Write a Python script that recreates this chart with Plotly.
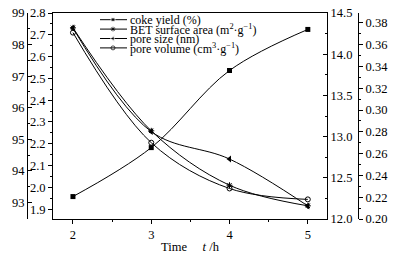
import plotly.graph_objects as go

time_h = [2, 3, 4, 5]
coke_yield = [93.19, 94.74, 97.18, 98.48]
bet_area = [14.32, 13.07, 12.41, 12.16]
pore_size = [2.731, 2.256, 2.130, 1.915]
pore_volume = [0.371, 0.270, 0.228, 0.218]

legend_names = ["coke yield (%)",
                "BET surface area (m<sup>2</sup>·g<sup>−1</sup>)",
                "pore size (nm)",
                "pore volume (cm<sup>3</sup>·g<sup>−1</sup>)"]

W, H = 395, 260
FONT = "Liberation Serif"
px = lambda v: v / W
py = lambda v: (H - v) / H

series = [
    (coke_yield, "y2", dict(symbol="square", size=5, color="black")),
    (bet_area, "y3", dict(symbol="asterisk-open", size=5, color="black", line=dict(color="black", width=1))),
    (pore_size, "y", dict(symbol="triangle-left", size=6, color="black")),
    (pore_volume, "y4", dict(symbol="circle-open", size=5, color="black", line=dict(color="black", width=1))),
]

fig = go.Figure()
for vals, yax, mk in series:
    fig.add_trace(go.Scatter(x=time_h, y=vals, yaxis=yax, mode="lines+markers",
                             line=dict(color="black", width=1, shape="spline", smoothing=1),
                             marker=mk, showlegend=False, hoverinfo="skip"))

# manual compact legend drawn on a pixel-space overlay axis
rows = [19.7, 29.1, 38.5, 47.9]
for (vals, yax, mk), name, ry in zip(series, legend_names, rows):
    m = dict(mk)
    m["size"] = [0, mk["size"] - 1, 0]
    fig.add_trace(go.Scatter(x=[100, 113, 127], y=[ry, ry, ry], xaxis="x2", yaxis="y5",
                             mode="lines+markers", line=dict(color="black", width=1),
                             marker=m, showlegend=False, hoverinfo="skip"))
    fig.add_annotation(x=128, y=ry + 0.5, xref="x2", yref="y5", text=name, showarrow=False,
                       xanchor="left", yanchor="middle", font=dict(family=FONT, size=12, color="black"))

axis_common = dict(showline=True, linecolor="black", linewidth=1, showgrid=False, zeroline=False,
                   tickcolor="black", tickwidth=1, ticklen=4,
                   tickfont=dict(family=FONT, size=12.5, color="black"), automargin=False)

fig.update_layout(
    width=W, height=H, margin=dict(l=0, r=0, t=0, b=0),
    paper_bgcolor="white", plot_bgcolor="rgba(0,0,0,0)",
    xaxis=dict(domain=[px(53), px(327)], range=[1.745, 5.245], tickvals=time_h, ticks="outside",
               mirror=True, anchor="y",
               minor=dict(dtick=0.5, tick0=2, ticks="outside", ticklen=2, tickcolor="black"),
               **axis_common),
    yaxis=dict(domain=[py(219), py(13)], range=[1.855, 2.8], dtick=0.1, tick0=1.9, tickformat=".1f",
               ticks="outside", anchor="x", side="left",
               minor=dict(dtick=0.05, tick0=1.9, ticks="outside", ticklen=2, tickcolor="black"),
               **axis_common),
    yaxis2=dict(overlaying="y", anchor="free", position=px(27), side="left",
                range=[92.48, 99], dtick=1, tick0=93, ticks="inside",
                minor=dict(dtick=0.5, tick0=93, ticks="inside", ticklen=2, tickcolor="black"),
                **axis_common),
    yaxis3=dict(overlaying="y", anchor="x", side="right", range=[12, 14.5], dtick=0.5, tick0=12,
                tickformat=".1f", ticks="inside",
                minor=dict(dtick=0.25, tick0=12, ticks="inside", ticklen=2, tickcolor="black"),
                **axis_common),
    yaxis4=dict(overlaying="y", anchor="free", position=px(358), side="right",
                range=[0.2, 0.389], dtick=0.02, tick0=0.2, tickformat=".2f", ticks="outside",
                minor=dict(dtick=0.01, tick0=0.2, ticks="outside", ticklen=2, tickcolor="black"),
                **axis_common),
    xaxis2=dict(domain=[0, 1], range=[0, W], visible=False, anchor="y5"),
    yaxis5=dict(domain=[0, 1], range=[H, 0], visible=False, anchor="x2"),
)

fig.add_annotation(x=px(190), y=py(247), xref="paper", yref="paper",
                   text="Time&nbsp;&nbsp;&nbsp;&nbsp;&nbsp;<i>t</i> /h", showarrow=False,
                   xanchor="center", yanchor="middle", font=dict(family=FONT, size=12.5, color="black"))

fig.write_html("out.html", config={"displayModeBar": False},
               post_script="document.body.style.margin='0px';")
